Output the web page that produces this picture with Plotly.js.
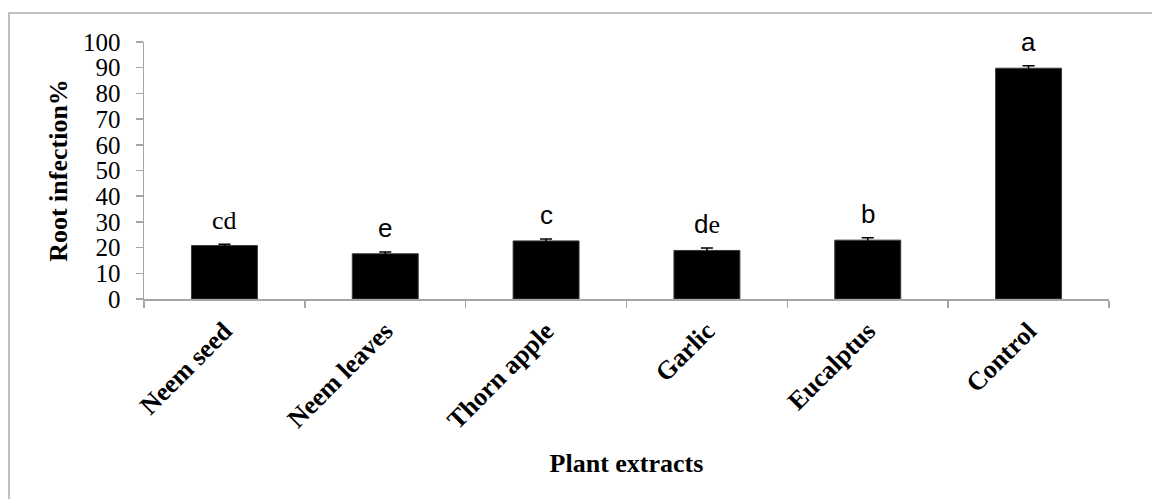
<!DOCTYPE html>
<html>
<head>
<meta charset="utf-8">
<script src="https://cdn.plot.ly/plotly-3.0.1.min.js"></script>
<style>
  html, body { margin: 0; padding: 0; background: #fff; }
  #wrap { position: relative; width: 1152px; height: 499px; overflow: hidden; }
  #chart { position: absolute; left: 0; top: 0; width: 1152px; height: 499px; }
  #frame { position: absolute; left: 8px; top: 12px; width: 1200px; height: 600px;
           border-left: 2px solid #c0c0c0; border-top: 2px solid #c0c0c0; pointer-events: none; }
</style>
</head>
<body>
<div id="wrap">
  <div id="chart"></div>
  <div id="frame"></div>
</div>
<script>
const categories = ["Neem seed", "Neem leaves", "Thorn apple", "Garlic", "Eucalptus", "Control"];
const infection = [20.8, 17.6, 22.6, 18.9, 22.9, 89.8];
const errors = [0.5, 0.7, 0.7, 0.9, 0.9, 1.0];
const letters = [
  "<span style='font-family:Liberation Serif, Times New Roman, serif'>cd</span>",
  "e",
  "c",
  "d<span style='font-family:Liberation Serif, Times New Roman, serif'>e</span>",
  "b",
  "a"
];

const serif = "Liberation Serif, Times New Roman, serif";

const trace = {
  type: "bar",
  x: categories,
  y: infection,
  marker: { color: "#000000", line: { color: "#3a3a3a", width: 1 } },
  error_y: { type: "data", array: errors, visible: true, color: "#000000", thickness: 1.5, width: 6 },
  hoverinfo: "x+y"
};

const annotations = categories.map((c, i) => ({
  x: c,
  y: infection[i] + errors[i],
  xref: "x",
  yref: "y",
  text: letters[i],
  showarrow: false,
  yanchor: "bottom",
  yshift: 7,
  font: { family: "Liberation Sans, Arial, sans-serif", size: 26, color: "#000" }
}));

const layout = {
  width: 1152,
  height: 499,
  margin: { l: 144, r: 43, t: 42, b: 200 },
  paper_bgcolor: "#ffffff",
  plot_bgcolor: "#ffffff",
  bargap: 0.59,
  showlegend: false,
  xaxis: {
    type: "category",
    tickson: "boundaries",
    ticks: "outside",
    ticklen: 7,
    tickcolor: "#a6a6a6",
    tickwidth: 1.5,
    showline: true,
    linecolor: "#a6a6a6",
    linewidth: 1.5,
    showgrid: false,
    tickangle: -45,
    ticklabelstandoff: 5,
    tickfont: { family: serif, size: 26, color: "#000", weight: "bold" },
    title: { text: "<b>Plant extracts</b>", font: { family: serif, size: 26, color: "#000" }, standoff: 20 }
  },
  yaxis: {
    range: [0, 100],
    dtick: 10,
    ticks: "outside",
    ticklen: 7,
    tickcolor: "#a6a6a6",
    tickwidth: 1.5,
    showline: true,
    linecolor: "#a6a6a6",
    linewidth: 1.5,
    showgrid: false,
    zeroline: false,
    ticklabelstandoff: 10,
    tickfont: { family: serif, size: 25, color: "#000" },
    title: { text: "<b>Root infection%</b>", font: { family: serif, size: 26, color: "#000" }, standoff: 8 }
  },
  annotations: annotations
};

Plotly.newPlot("chart", [trace], layout, { displayModeBar: false, staticPlot: true });
</script>
</body>
</html>
